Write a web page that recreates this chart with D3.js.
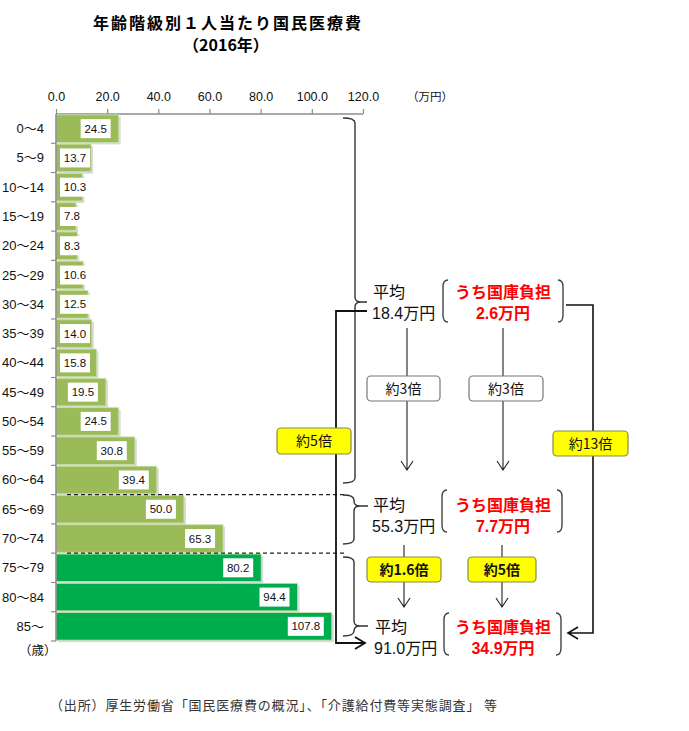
<!DOCTYPE html>
<html><head><meta charset="utf-8">
<script src="https://cdn.jsdelivr.net/npm/d3@7/dist/d3.min.js"></script>
<style>
body{margin:0;background:#fff;}
svg{display:block;}
</style></head>
<body>
<svg id="c" width="689" height="731"></svg>
<script>
const ages = ["0～4","5～9","10～14","15～19","20～24","25～29","30～34","35～39","40～44","45～49","50～54","55～59","60～64","65～69","70～74","75～79","80～84","85～"];
const values = [24.5,13.7,10.3,7.8,8.3,10.6,12.5,14.0,15.8,19.5,24.5,30.8,39.4,50.0,65.3,80.2,94.4,107.8];
const tickValues = [0,20,40,60,80,100,120];
const groupAvg = ["18.4万円","55.3万円","91.0万円"];
const groupState = ["2.6万円","7.7万円","34.9万円"];
const ratioAvg = ["約3倍","約1.6倍"];
const ratioState = ["約3倍","約5倍"];
const ratioLongAvg = "約5倍";
const ratioLongState = "約13倍";

const svg = d3.select("#c");
const JP = "'Noto Sans CJK JP', sans-serif";
const LAT = "'Liberation Sans', 'Noto Sans CJK JP', sans-serif";

// Title
svg.append("text").attr("x",227).attr("y",29).attr("text-anchor","middle")
  .attr("font-family",JP).attr("font-weight","bold").attr("font-size",16)
  .attr("textLength",268).attr("lengthAdjust","spacing")
  .text("年齢階級別１人当たり国民医療費");
svg.append("text").attr("x",226).attr("y",51).attr("text-anchor","middle")
  .attr("font-family",JP).attr("font-weight","bold").attr("font-size",16)
  .text("（2016年）");

const x = d3.scaleLinear().domain([0,120]).range([56,363]);
const y = d3.scaleBand().domain(ages).range([114,641]).paddingInner(0.06).paddingOuter(0.03);
const yb = d3.scaleBand().domain(ages).range([114,641]);

// top axis
const ax = svg.append("g").attr("transform","translate(0,114)")
  .call(d3.axisTop(x).tickValues(tickValues).tickFormat(d3.format(".1f")).tickSize(5).tickPadding(8));
ax.select(".domain").attr("stroke","#8c8c8c").attr("stroke-width",1.5).attr("d","M56,0H363");
ax.selectAll(".tick line").attr("stroke","#8c8c8c").attr("stroke-width",1.2);
ax.selectAll("text").attr("font-family",LAT).attr("font-size",12.5).attr("fill","#111");
svg.append("text").attr("x",407).attr("y",101).attr("font-family",JP).attr("font-size",11.5)
  .attr("fill","#111").text("（万円）");

// bars
const bars = svg.append("g");
values.forEach((v,i)=>{
  const a = ages[i];
  const col = i>=15 ? "#00AD4D" : "#9BBB59";
  const bw = x(v)-x(0);
  bars.append("rect").attr("x",x(0)+2).attr("y",y(a)+2).attr("width",bw).attr("height",y.bandwidth())
    .attr("fill","#d9d9d9");
  bars.append("rect").attr("x",x(0)).attr("y",y(a)).attr("width",bw).attr("height",y.bandwidth())
    .attr("fill",col).attr("stroke","#c8e0a8").attr("stroke-width",0.8);
});
// left axis
const ay = svg.append("g").attr("transform","translate(56,0)");
ay.append("line").attr("x1",0).attr("x2",0).attr("y1",114).attr("y2",641).attr("stroke","#8c8c8c").attr("stroke-width",1.5);
ages.forEach((a,i)=>{
  ay.append("line").attr("x1",-5).attr("x2",0).attr("y1",yb(a)+yb.bandwidth()).attr("y2",yb(a)+yb.bandwidth())
    .attr("stroke","#8c8c8c").attr("stroke-width",1.2);
  svg.append("text").attr("x",44).attr("y",yb(a)+yb.bandwidth()/2+4.5).attr("text-anchor","end")
    .attr("font-family",LAT).attr("font-size",13).attr("fill","#111").text(a);
});
svg.append("text").attr("x",19).attr("y",655).attr("font-family",JP).attr("font-size",12.5).attr("fill","#111").text("（歳）");

// value labels
values.forEach((v,i)=>{
  const a = ages[i];
  const t = d3.format(".1f")(v);
  const w = t.length*6+6;
  const right = Math.max(x(v)-8, 60+w);
  const cy = yb(a)+yb.bandwidth()/2;
  svg.append("rect").attr("x",right-w).attr("y",cy-9.5).attr("width",w).attr("height",19).attr("fill","#fff");
  svg.append("text").attr("x",right-w/2).attr("y",cy+4).attr("text-anchor","middle")
    .attr("font-family",LAT).attr("font-size",11.5).attr("fill","#111").text(t);
});

// dashed separators
[ages[12],ages[14]].forEach(a=>{
  const yy = yb(a)+yb.bandwidth();
  svg.append("line").attr("x1",67).attr("x2",346).attr("y1",yy).attr("y2",yy)
    .attr("stroke","#222").attr("stroke-width",1.2).attr("stroke-dasharray","4,3");
});

// braces
function brace(x0,x1,xt,xe,y0,ym,y1){
  const r=5;
  svg.append("path").attr("d",`M${x0},${y0}Q${x1},${y0} ${x1},${y0+r}L${x1},${ym-r}Q${x1},${ym} ${xt},${ym}Q${x1},${ym} ${x1},${ym+r}L${x1},${y1-r}Q${x1},${y1} ${x0},${y1}M${xt},${ym}H${xe}`)
    .attr("fill","none").attr("stroke","#333").attr("stroke-width",1.4);
}
brace(343,355,361,367,118,302,483);
brace(343,354,360,368,495,506,544);
brace(343,354,360,368,557,626,636);

// parens
function paren(xl,xr,y0,y1){
  const r=7;
  svg.append("path").attr("d",`M${xl+5},${y0}Q${xl},${y0} ${xl},${y0+r}L${xl},${y1-r}Q${xl},${y1} ${xl+5},${y1}M${xr-5},${y0}Q${xr},${y0} ${xr},${y0+r}L${xr},${y1-r}Q${xr},${y1} ${xr-5},${y1}`)
    .attr("fill","none").attr("stroke","#444").attr("stroke-width",1.4);
}
paren(443,563,280,322);
paren(442,562,490,532);
paren(444,561,613,655);

// group texts
const gy = [[292,313],[505,526],[627,648]];
const gx = [373,373,375];
gy.forEach((p,i)=>{
  svg.append("text").attr("x",gx[i]).attr("y",p[0]+6).attr("font-family",JP).attr("font-size",16).attr("fill","#111").text("平均");
  svg.append("text").attr("x",gx[i]-1).attr("y",p[1]+6).attr("font-family",LAT).attr("font-size",16).attr("fill","#111").text(groupAvg[i]);
  svg.append("text").attr("x",503).attr("y",p[0]+6).attr("text-anchor","middle").attr("font-family",JP).attr("font-weight","bold").attr("font-size",16).attr("fill","#FF0000").text("うち国庫負担");
  svg.append("text").attr("x",503).attr("y",p[1]+6).attr("text-anchor","middle").attr("font-family",LAT).attr("font-weight","bold").attr("font-size",16).attr("fill","#FF0000").text(groupState[i]);
});

// arrows
function arrowDown(xx,y0,y1){
  svg.append("path").attr("d",`M${xx},${y0}V${y1}M${xx-6},${y1-9}L${xx},${y1}L${xx+6},${y1-9}`)
    .attr("fill","none").attr("stroke","#222").attr("stroke-width",1.1);
}
arrowDown(407,328,470);
arrowDown(503,328,470);
arrowDown(404,545,607);
arrowDown(502,545,607);

// long connectors
svg.append("path").attr("d","M367,311H336V643H364M355,637L365,643L355,649")
  .attr("fill","none").attr("stroke","#111").attr("stroke-width",1.8);
svg.append("path").attr("d","M566,305H593V633H569M578,627L568,633L578,639")
  .attr("fill","none").attr("stroke","#111").attr("stroke-width",1.6);

// boxes
function box(x0,x1,y0,y1,fill,stroke,txt,bold){
  svg.append("rect").attr("x",x0).attr("y",y0).attr("width",x1-x0).attr("height",y1-y0).attr("rx",4)
    .attr("fill",fill).attr("stroke",stroke).attr("stroke-width",1.2);
  svg.append("text").attr("x",(x0+x1)/2).attr("y",(y0+y1)/2+5).attr("text-anchor","middle")
    .attr("font-family",JP).attr("font-size",14).attr("font-weight",bold?"bold":"normal").attr("fill","#111").text(txt);
}
box(277,351,428,454,"#FFFF00","#8a8a40",ratioLongAvg,false);
box(553,628,431,456,"#FFFF00","#8a8a40",ratioLongState,false);
box(367,440,376,401,"#fff","#777",ratioAvg[0],false);
box(469,543,376,401,"#fff","#777",ratioState[0],false);
box(367,441,557,582,"#FFFF00","#8a8a40",ratioAvg[1],true);
box(468,536,557,582,"#FFFF00","#8a8a40",ratioState[1],true);

// footer
svg.append("text").attr("x",50).attr("y",710).attr("font-family",JP).attr("font-size",13).attr("fill","#333")
  .attr("textLength",447).attr("lengthAdjust","spacing")
  .text("（出所）厚生労働省「国民医療費の概況」、「介護給付費等実態調査」 等");
</script>
</body></html>
